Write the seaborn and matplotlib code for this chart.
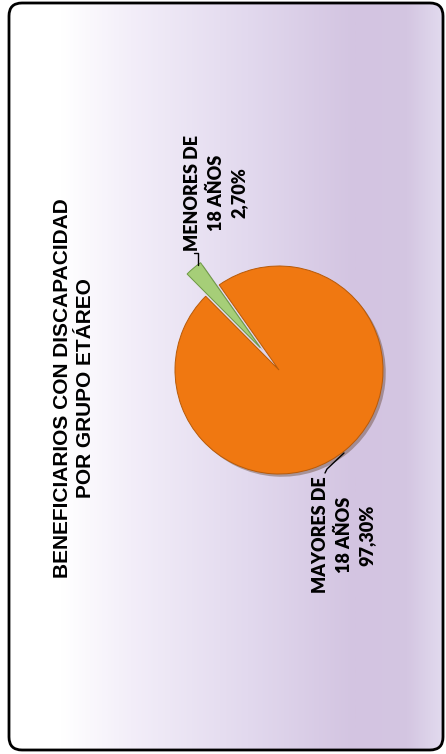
import numpy as np
import matplotlib
matplotlib.use("Agg")
import matplotlib.pyplot as plt
import seaborn as sns
from matplotlib.patches import FancyBboxPatch
from matplotlib.colors import LinearSegmentedColormap
import matplotlib.patheffects as pe

# ---- data ----
categories = ["MENORES DE\n18 AÑOS", "MAYORES DE\n18 AÑOS"]
shares = [2.70, 97.30]
share_labels = ["2,70%", "97,30%"]
colors = ["#A6CE78", "#F07811"]
title = "BENEFICIARIOS CON DISCAPACIDAD\nPOR GRUPO ETÁREO"

sns.set_theme(style="white")
plt.rcParams["font.family"] = ["Liberation Sans", "DejaVu Sans"]

W, H = 446, 754
fig = plt.figure(figsize=(W / 100, H / 100), dpi=100)
fig.patch.set_facecolor("white")
ax = fig.add_axes([0, 0, 1, 1])

# ---- background rounded box with gradient ----
bx0, by0, bx1, by1 = 9, 4, 443, 751
r = 13
cmap = LinearSegmentedColormap.from_list(
    "bg",
    [(0.0, "#FFFFFF"), (0.12, "#FFFFFF"), (0.28, "#F3EEF9"),
     (0.55, "#E2D9EE"), (0.80, "#D3C4E1"), (0.92, "#D4C6E2"), (1.0, "#E2DAEE")],
)
grad = np.linspace(0, 1, 512)[None, :]
im = ax.imshow(grad, cmap=cmap, extent=(bx0, bx1, by0, by1), aspect="auto", zorder=0)
box = FancyBboxPatch((bx0 + r, by0 + r), (bx1 - bx0) - 2 * r, (by1 - by0) - 2 * r,
                     boxstyle=f"round,pad={r}", facecolor="none",
                     edgecolor="black", linewidth=2.0, zorder=5)
ax.add_patch(box)
im.set_clip_path(box)

# ---- pie ----
cx, cy, R = 279, 384, 104
wedges, _ = ax.pie(
    shares, colors=colors, startangle=125.1, counterclock=True,
    radius=R, center=(cx, cy), explode=[29, 0],
    wedgeprops=dict(edgecolor="#B85A08", linewidth=0.7),
)
wedges[0].set_edgecolor("#6E9A45")
for w in wedges:
    w.set_path_effects([pe.SimplePatchShadow(offset=(2, -2), alpha=0.35), pe.Normal()])
    w.set_zorder(3)

ax.set_xlim(0, W)
ax.set_ylim(0, H)
ax.set_aspect("equal")
ax.axis("off")

# ---- labels ----
lab_font = dict(family=["Lato", "DejaVu Sans"], fontweight="heavy", fontsize=13,
                rotation=90, ha="center", va="center", multialignment="center",
                linespacing=1.45, color="black", zorder=6)
ax.text(216, 561, categories[0] + "\n" + share_labels[0], **lab_font)
ax.text(344, 219, categories[1] + "\n" + share_labels[1], **lab_font)

# leader lines
ax.plot([198, 198, 194], [489, 501, 501], color="black", lw=1.0, zorder=6)
ax.plot([344, 327, 325], [301, 285, 281], color="black", lw=1.0, zorder=6)

# ---- title ----
ax.text(74, 366, title, rotation=90, ha="center", va="center",
        multialignment="center", fontsize=15, fontweight="bold",
        color="black", linespacing=1.3, zorder=6)

fig.savefig("out.png", dpi=100, facecolor="white")
